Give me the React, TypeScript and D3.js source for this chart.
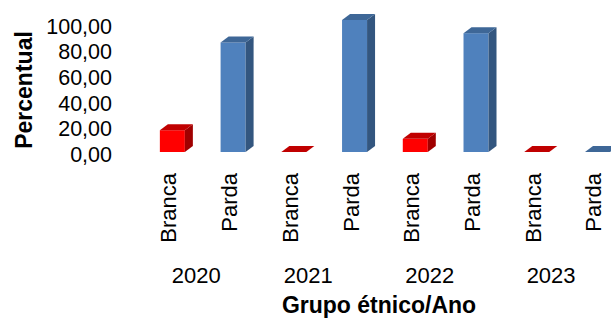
import React from "react";
import * as d3 from "d3";

const years = ["2020", "2021", "2022", "2023"];
const groups = ["Branca", "Parda"];
const branca = [16.5, 0, 10, 0];
const parda = [83, 100, 90, 0];
const yTicks = [0, 20, 40, 60, 80, 100];

const W = 611;
const H = 320;
const FONT = "'Liberation Sans', Arial, sans-serif";

const colors: Record<string, { front: string; top: string; side: string }> = {
  Branca: { front: "#FF0000", top: "#C00000", side: "#A00000" },
  Parda: { front: "#4F81BD", top: "#3E6797", side: "#33567F" },
};

type Bar = { key: string; year: string; group: string; value: number };
const bars: Bar[] = [];
years.forEach((y, i) => {
  bars.push({ key: `${y}-Branca`, year: y, group: "Branca", value: branca[i] });
  bars.push({ key: `${y}-Parda`, year: y, group: "Parda", value: parda[i] });
});

export default function App() {
  const step = 60.73;
  const x = d3
    .scaleBand<string>()
    .domain(bars.map((b) => b.key))
    .range([142, 142 + step * bars.length])
    .padding(0);
  const xYear = d3
    .scaleBand<string>()
    .domain(years)
    .range([126, 126 + step * 2 * years.length]);
  const plotLeft = 145;
  const yBar = d3.scaleLinear().domain([0, 100]).range([152, 20]);
  const yTick = d3.scaleLinear().domain([0, 100]).range([155, 26.5]);
  const bw = 25;
  const dx = 8;
  const dy = 6;
  const fmt = (v: number) => v.toFixed(2).replace(".", ",");

  return (
    <div style={{ position: "fixed", left: 0, top: 0 }}>
      <svg width={W} height={H} style={{ display: "block", background: "#fff" }}>
        {/* y tick labels */}
        {yTicks.map((t) => (
          <text
            key={t}
            x={112}
            y={yTick(t)}
            textAnchor="end"
            dominantBaseline="central"
            fontFamily={FONT}
            fontSize={21.5}
            fill="#000"
          >
            {fmt(t)}
          </text>
        ))}
        {/* y axis title */}
        <text
          transform={`translate(32,90) rotate(-90)`}
          textAnchor="middle"
          fontFamily={FONT}
          fontSize={23}
          fontWeight="bold"
          fill="#000"
        >
          Percentual
        </text>
        {/* bars */}
        {bars.map((b) => {
          const cx = (x(b.key) as number) + x.bandwidth() / 2;
          const x0 = cx - bw / 2;
          const x1 = cx + bw / 2;
          const yb = yBar(0);
          const yt = yBar(b.value);
          const c = colors[b.group];
          const top = `M${x0},${yt} L${x0 + dx},${yt - dy} L${x1 + dx},${yt - dy} L${x1},${yt} Z`;
          const side = `M${x1},${yt} L${x1 + dx},${yt - dy} L${x1 + dx},${yb - dy} L${x1},${yb} Z`;
          return (
            <g key={b.key}>
              {b.value > 0 && <rect x={x0} y={yt} width={bw} height={yb - yt} fill={c.front} />}
              {b.value > 0 && <path d={side} fill={c.side} />}
              <path d={top} fill={c.top} />
            </g>
          );
        })}
        {/* category labels */}
        {bars.map((b) => {
          const cx = (x(b.key) as number) + x.bandwidth() / 2 + 4;
          return (
            <text
              key={"l" + b.key}
              transform={`translate(${cx},173) rotate(-90)`}
              textAnchor="end"
              fontFamily={FONT}
              fontSize={22}
              fill="#000"
            >
              {b.group}
            </text>
          );
        })}
        {/* year labels */}
        {years.map((y) => {
          const s = Math.max(plotLeft, xYear(y) as number);
          const e = (xYear(y) as number) + xYear.bandwidth();
          return (
            <text
              key={"y" + y}
              x={(s + e) / 2}
              y={283}
              textAnchor="middle"
              fontFamily={FONT}
              fontSize={22}
              fill="#000"
            >
              {y}
            </text>
          );
        })}
        <text
          x={379}
          y={313}
          textAnchor="middle"
          fontFamily={FONT}
          fontSize={23}
          fontWeight="bold"
          fill="#000"
        >
          Grupo étnico/Ano
        </text>
      </svg>
    </div>
  );
}
